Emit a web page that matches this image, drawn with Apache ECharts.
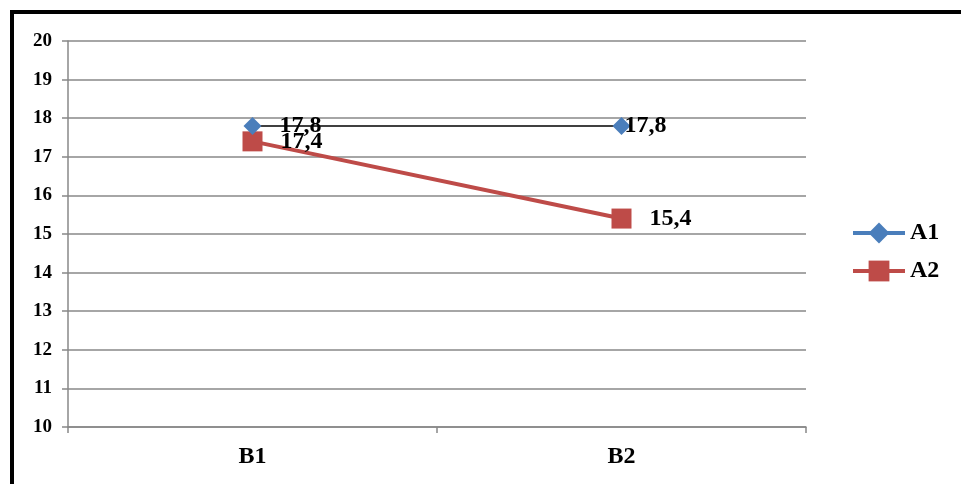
<!DOCTYPE html>
<html>
<head>
<meta charset="utf-8">
<script src="https://cdn.jsdelivr.net/npm/echarts@6/dist/echarts.min.js"></script>
<style>
  html, body { margin: 0; padding: 0; background: #fff; }
  #chart { width: 961px; height: 484px; }
</style>
</head>
<body>
<div id="chart"></div>
<script>
const categories = ['B1', 'B2'];
const a1Values = [17.8, 17.8];
const a2Values = [17.4, 15.4];
const yTicks = { min: 10, max: 20, interval: 1 };

const font = '"Liberation Serif", "Times New Roman", serif';
const fmt = p => String(p.value).replace('.', ',');

const chart = echarts.init(document.getElementById('chart'));
chart.setOption({
  animation: false,
  textStyle: { fontFamily: font },
  graphic: [{
    type: 'rect',
    shape: { x: 12, y: 12, width: 1100, height: 1100 },
    style: { fill: 'none', stroke: '#000', lineWidth: 4 }
  }],
  grid: { left: 68, right: 155, top: 41, bottom: 57 },
  legend: {
    orient: 'vertical',
    left: 846,
    top: 216,
    itemGap: 14,
    itemWidth: 52,
    itemHeight: 26,
    textStyle: { fontFamily: font, fontSize: 24, fontWeight: 'bold', color: '#000' },
    data: [
      { name: 'A1', itemStyle: { color: '#4a7ebb' }, lineStyle: { color: '#4a7ebb', width: 4 } },
      { name: 'A2', itemStyle: { color: '#be4b48' }, lineStyle: { color: '#be4b48', width: 4 } }
    ]
  },
  xAxis: {
    type: 'category',
    data: categories,
    boundaryGap: true,
    axisLine: { lineStyle: { color: '#888', width: 1.5 } },
    axisTick: { show: true, length: 6, lineStyle: { color: '#888', width: 1.5 } },
    axisLabel: { fontFamily: font, fontSize: 24, fontWeight: 'bold', color: '#000', margin: 18 }
  },
  yAxis: {
    type: 'value',
    min: yTicks.min,
    max: yTicks.max,
    interval: yTicks.interval,
    axisLine: { show: true, lineStyle: { color: '#888', width: 1.5 } },
    axisTick: { show: true, length: 6, lineStyle: { color: '#888', width: 1.5 } },
    splitLine: { lineStyle: { color: '#888', width: 1.5 } },
    axisLabel: { fontFamily: font, fontSize: 19, fontWeight: 'bold', color: '#000', margin: 16 }
  },
  series: [
    {
      name: 'A1',
      type: 'line',
      data: [
        { value: a1Values[0], label: { distance: 18 } },
        { value: a1Values[1], label: { distance: -6 } }
      ],
      symbol: 'diamond',
      symbolSize: 18,
      itemStyle: { color: '#4a7ebb' },
      lineStyle: { color: '#000', width: 1.5 },
      label: {
        show: true, position: 'right', formatter: fmt,
        fontFamily: font, fontSize: 24, fontWeight: 'bold', color: '#000'
      },
      z: 3
    },
    {
      name: 'A2',
      type: 'line',
      data: a2Values,
      symbol: 'rect',
      symbolSize: 20,
      itemStyle: { color: '#be4b48' },
      lineStyle: { color: '#be4b48', width: 4 },
      label: {
        show: true, position: 'right', distance: 18, formatter: fmt,
        fontFamily: font, fontSize: 24, fontWeight: 'bold', color: '#000'
      },
      z: 2
    }
  ]
});
</script>
</body>
</html>
